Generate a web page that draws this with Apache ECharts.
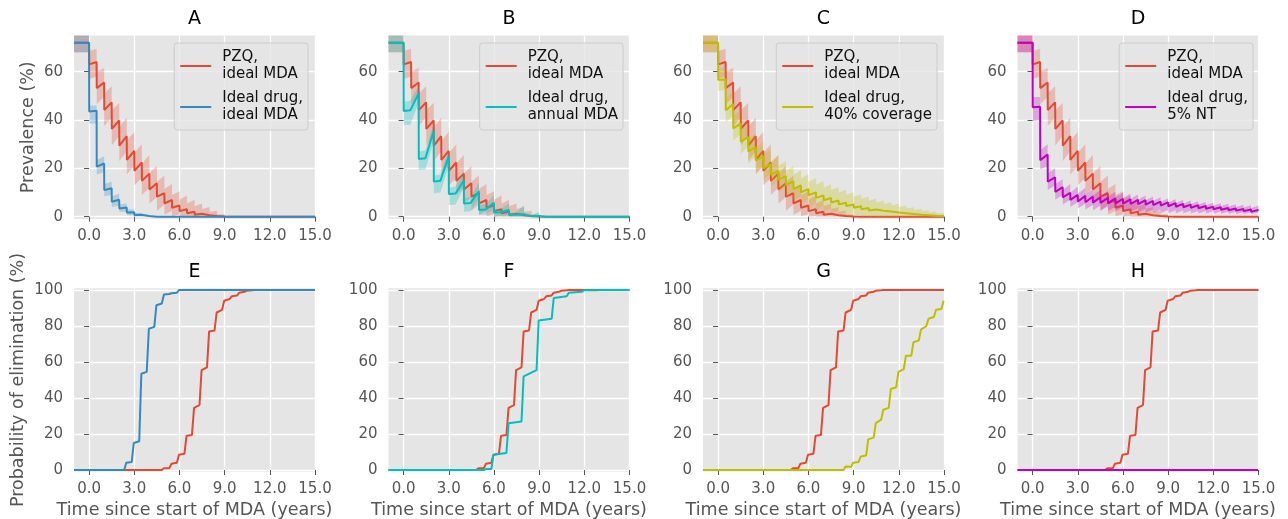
<!DOCTYPE html>
<html><head><meta charset="utf-8">
<script src="https://cdn.jsdelivr.net/npm/echarts@6/dist/echarts.min.js"></script>
<style>html,body{margin:0;padding:0;background:#fff}#c{width:1288px;height:519px}</style>
</head><body><div id="c"></div>
<script>
// ---------------- data ----------------
const panelTitles = ['A', 'B', 'C', 'D', 'E', 'F', 'G', 'H'];
const xTicks = [0, 3, 6, 9, 12, 15];
const prevTicks = [0, 20, 40, 60];
const elimTicks = [0, 20, 40, 60, 80, 100];
const semiT = [0, 0.5, 1, 1.5, 2, 2.5, 3, 3.5, 4, 4.5, 5, 5.5, 6, 6.5, 7, 7.5, 8, 8.5, 9, 9.5, 10, 10.5, 11, 11.5, 12, 12.5, 13, 13.5, 14, 14.5, 15];
const annualT = [0, 1, 2, 3, 4, 5, 6, 7, 8, 9, 10, 11, 12, 13, 14, 15];

// Prevalence: PZQ, ideal MDA (semi-annual rounds): value just before / just after each round
const pzqPre = [72, 64, 55.5, 47.3, 39.8, 33.3, 27.2, 22.4, 17.8, 13.8, 9.7, 6.9, 4.6, 3.1, 2.0, 1.2, 0.6, 0.3, 0.1, 0];
const pzqPost = [63, 53.2, 44.1, 36.3, 29.4, 23.5, 19.0, 14.8, 11.2, 8.3, 5.5, 3.7, 2.3, 1.4, 0.8, 0.4, 0.2, 0.1, 0, 0];
const pzqHiPre = [75, 69.5, 61.5, 54, 47, 41, 35, 30, 25.5, 21, 17, 13.5, 10.5, 8.8, 7, 5.5, 4, 2.5, 1, 0];
const pzqHiPost = [68.5, 60, 51, 44, 37, 31.5, 26.5, 22, 18, 14.5, 11.5, 9, 7, 5.5, 4.3, 3.2, 2, 1, 0.3, 0];
const pzqLoPre = [68, 58, 49.5, 41, 33.5, 27, 21, 16, 12, 8, 5, 2.5, 1, 0.3, 0];
const pzqLoPost = [57, 46.5, 37.5, 29.5, 23, 17.5, 13, 9, 5.5, 2.5, 0.8, 0.2, 0];

// Ideal drug, ideal MDA
const idealPre = [72, 43.8, 22, 11.8, 7, 3.8, 1.8, 0.8, 0.3, 0];
const idealPost = [43.5, 20.7, 11, 6.2, 3.4, 1.7, 0.7, 0.3, 0, 0];
const idealHiPre = [75, 46, 25, 14.5, 9.5, 5.5, 3, 1.5, 0.6, 0];
const idealHiPost = [46, 23.5, 13.5, 8.5, 5, 3, 1.5, 0.6, 0.2, 0];
const idealLoPre = [68, 38.5, 18.5, 9, 4.5, 2, 0.6, 0.1, 0];
const idealLoPost = [38.5, 17.5, 8.5, 4, 2, 0.6, 0.1, 0];

// Ideal drug, annual MDA (annual rounds, plus value half a year after each round)
const annPre = [72, 51, 35.5, 25, 15, 10.5, 5.8, 2.8, 1, 0.3, 0];
const annPost = [43.7, 23.9, 14.5, 9.4, 5.5, 2.8, 1.7, 0.8, 0.2, 0, 0];
const annMid = [44, 24.2, 14.9, 9.6, 5.7, 3, 1.8, 0.8, 0.2, 0, 0];
const annHiPre = [75, 54, 38.5, 28, 19, 14, 9, 5.5, 4.8, 2, 0];
const annHiPost = [47.5, 27, 17, 12, 7.6, 4.8, 3, 1.5, 0.5, 0, 0];
const annHiMid = [48, 27.5, 17.5, 12.5, 8, 5, 3.2, 1.6, 0.5, 0, 0];
const annLoPre = [68, 47, 31, 21, 12, 7.5, 3, 0.5, 0];
const annLoPost = [38, 19.3, 9.7, 4.8, 2, 0.7, 0];
const annLoMid = [38, 19.5, 10, 5, 2.2, 0.8, 0.1, 0];

// Ideal drug, 40% coverage
const covPre = [72, 56.8, 46.6, 38.5, 33, 28.8, 25, 21.8, 19, 16.8, 14.6, 12.9, 11.4, 10, 8.8, 7.7, 6.7, 5.8, 5, 4.3, 3.6, 3, 2.5, 2.1, 1.7, 1.4, 1.1, 0.8, 0.6, 0.4, 0.25];
const covPost = [56.6, 44, 36.5, 31, 27, 23.3, 20, 17.3, 15.2, 13.1, 11.5, 10.1, 8.9, 7.8, 6.8, 5.9, 5.1, 4.4, 3.7, 3.1, 2.6, 2.2, 1.8, 1.5, 1.2, 0.9, 0.7, 0.5, 0.35, 0.2, 0.1];
const covHiPre = [75, 61.5, 52, 44.5, 39, 34.5, 31, 28, 25.3, 23, 21, 19.2, 17.6, 16, 14.7, 13.4, 12.2, 11.1, 10.1, 9.2, 8.3, 7.5, 6.7, 6, 5.3, 4.6, 3.9, 3.3, 2.7, 2.1, 1.5];
const covHiPost = [61, 49, 41.5, 36, 32, 28.5, 25.5, 23, 21, 19, 17.3, 15.8, 14.5, 13.2, 12, 11, 10, 9.1, 8.2, 7.4, 6.6, 5.9, 5.2, 4.6, 4, 3.4, 2.8, 2.3, 1.8, 1.3, 0.9];
const covLoPre = [68, 52.5, 42, 34, 29, 25, 21, 18, 15, 12.5, 10.5, 8.5, 7, 5.6, 4.5, 3.5, 2.6, 1.9, 1.3, 0.8, 0.5, 0.3, 0.1, 0];
const covLoPost = [52, 39, 31.5, 26, 22, 18.5, 15, 12.5, 10, 8, 6.5, 5, 3.8, 2.8, 2, 1.4, 0.9, 0.5, 0.3, 0.1, 0];

// Ideal drug, 5% NT
const ntPre = [72, 45.5, 25.7, 16.3, 12.2, 9.9, 9.0, 8.6, 8.3, 8.0, 7.8, 7.6, 7.4, 7.2, 7.0, 6.8, 6.5, 6.2, 5.9, 5.6, 5.3, 5.0, 4.7, 4.4, 4.1, 3.9, 3.6, 3.4, 3.2, 3.0, 2.8];
const ntPost = [45.3, 23.4, 14.5, 10.3, 8.0, 6.9, 6.3, 6.0, 5.8, 5.7, 5.6, 5.5, 5.4, 5.3, 5.2, 5.0, 4.8, 4.6, 4.3, 4.1, 3.9, 3.7, 3.5, 3.3, 3.1, 2.9, 2.7, 2.5, 2.3, 2.1, 2.0];
const ntHiPre = [75, 49.5, 30, 20, 15.5, 13.5, 12.5, 12, 11.5, 11, 10.6, 10.3, 10, 9.6, 9.2, 8.8, 8.4, 8.0, 7.6, 7.3, 7.0, 6.7, 6.4, 6.1, 5.8, 5.6, 5.3, 5.1, 4.9, 4.7, 4.5];
const ntHiPost = [49.5, 27.5, 18, 13.5, 11, 10, 9.5, 9.2, 8.9, 8.6, 8.3, 8.0, 7.7, 7.4, 7.1, 6.8, 6.5, 6.2, 5.9, 5.7, 5.4, 5.2, 5.0, 4.8, 4.6, 4.4, 4.2, 4.0, 3.8, 3.6, 3.5];
const ntLoPre = [68, 40, 21, 13, 9, 7, 6, 5.3, 4.8, 4.5, 4.2, 4.0, 3.8, 3.6, 3.4, 3.2, 3.0, 2.9, 2.8, 2.7, 2.6, 2.5, 2.4, 2.3, 2.2, 2.1, 2.0, 1.9, 1.8, 1.7, 1.6];
const ntLoPost = [39.5, 19.5, 11, 7, 5, 4, 3.4, 3, 2.7, 2.5, 2.3, 2.1, 2, 1.9, 1.8, 1.7, 1.6, 1.5, 1.45, 1.4, 1.4, 1.35, 1.3, 1.3, 1.25, 1.2, 1.2, 1.15, 1.1, 1.1, 1.05];

// Probability of elimination: step times and values before / after each step
const pzqElimT = [5, 5.5, 6, 6.5, 7, 7.5, 8, 8.5, 9, 9.5, 10, 10.5, 11];
const pzqElimPre = [0, 1, 4, 9, 19.5, 36, 57, 77.5, 89, 95, 97, 99, 99.8];
const pzqElimPost = [1, 3.5, 8.5, 19, 34.5, 55.5, 77, 87.5, 94, 96.5, 98.5, 99.6, 100];
const idealElimT = [2.5, 3, 3.5, 4, 4.5, 5, 5.5, 6];
const idealElimPre = [0, 4.5, 16, 54.5, 79.5, 92.5, 97.8, 98.5];
const idealElimPost = [4, 15, 53.5, 78.5, 91.5, 97.5, 98.2, 100];
const annElimT = [5.5, 6, 7, 8, 9, 10, 11, 12, 13];
const annElimPre = [0, 0.6, 9.5, 27, 55.5, 84, 96.5, 99, 99.9];
const annElimPost = [0.5, 8.5, 26, 52, 83, 95.5, 98.5, 99.8, 100];
const covElimT = [8.5, 9, 9.5, 10, 10.5, 11, 11.5, 12, 12.5, 13, 13.5, 14, 14.5, 15];
const covElimPre = [0, 1.8, 4.5, 8, 18, 28, 34.5, 46, 56, 63.5, 72, 80, 85, 89.5];
const covElimPost = [2, 4, 7.5, 17, 26, 33.5, 45, 54.5, 63.5, 71, 78, 84, 89, 94];
const ntElimT = [15];
const ntElimPre = [0];
const ntElimPost = [0];

const NAMES = {
  pzq: 'PZQ,\nideal MDA', ideal: 'Ideal drug,\nideal MDA', ann: 'Ideal drug,\nannual MDA',
  cov: 'Ideal drug,\n40% coverage', nt: 'Ideal drug,\n5% NT'
};
const COLORS = { pzq: '#E24A33', ideal: '#348ABD', ann: '#00BFBF', cov: '#BFBF00', nt: '#BF00BF' };
const BANDS = {
  pzq: 'rgba(226,74,51,0.28)', ideal: 'rgba(52,138,189,0.28)', ann: 'rgba(0,191,191,0.28)',
  cov: 'rgba(191,191,0,0.28)', nt: 'rgba(191,0,191,0.28)'
};

// ---------------- builders ----------------
function at(a, k) { return a[Math.min(k, a.length - 1)]; }
function sawtooth(times, pre, post, mid) {
  const n = times.length, pts = [[-1, at(pre, 0)]];
  for (let k = 0; k < n - 1; k++) {
    pts.push([times[k], at(pre, k)]);
    pts.push([times[k] + 0.01, at(post, k)]);
    if (mid) pts.push([times[k] + 0.45, at(mid, k)]);
  }
  pts.push([times[n - 1], at(pre, n - 1)]);
  return pts;
}
function bandPts(times, loPre, loPost, hiPre, hiPost, loMid, hiMid) {
  const lo = sawtooth(times, loPre, loPost, loMid), hi = sawtooth(times, hiPre, hiPost, hiMid);
  return lo.map((p, i) => [p[0], p[1], hi[i][1]]);
}
function stairs(times, pre, post) {
  const pts = [[-1, 0]];
  times.forEach((t, k) => { pts.push([t - 0.17, pre[k]]); pts.push([t - 0.03, post[k]]); });
  pts.push([15, post[post.length - 1]]);
  return pts;
}

const topData = {
  pzq: { line: sawtooth(semiT, pzqPre, pzqPost), band: bandPts(semiT, pzqLoPre, pzqLoPost, pzqHiPre, pzqHiPost) },
  ideal: { line: sawtooth(semiT, idealPre, idealPost), band: bandPts(semiT, idealLoPre, idealLoPost, idealHiPre, idealHiPost) },
  ann: { line: sawtooth(annualT, annPre, annPost, annMid), band: bandPts(annualT, annLoPre, annLoPost, annHiPre, annHiPost, annLoMid, annHiMid) },
  cov: { line: sawtooth(semiT, covPre, covPost), band: bandPts(semiT, covLoPre, covLoPost, covHiPre, covHiPost) },
  nt: { line: sawtooth(semiT, ntPre, ntPost), band: bandPts(semiT, ntLoPre, ntLoPost, ntHiPre, ntHiPost) }
};
const elimData = {
  pzq: stairs(pzqElimT, pzqElimPre, pzqElimPost),
  ideal: stairs(idealElimT, idealElimPre, idealElimPost),
  ann: stairs(annElimT, annElimPre, annElimPost),
  cov: stairs(covElimT, covElimPre, covElimPost),
  nt: stairs(ntElimT, ntElimPre, ntElimPost)
};

// ---------------- layout / styles ----------------
const FONT = 'DejaVu Sans';
const others = ['ideal', 'ann', 'cov', 'nt'];
const colLeft = [74, 388.5, 703, 1017.5];
const plotW = 241;
const rowTop = [35.4, 288.2];
const plotH = [183.7, 183.6];
const legendRight = [980, 665, 351, 35];

const grids = [], xAxes = [], yAxes = [], series = [], graphics = [], legends = [];
for (let i = 0; i < 8; i++) {
  const row = i < 4 ? 0 : 1, col = i % 4;
  grids.push({
    left: colLeft[col], top: rowTop[row], width: plotW, height: plotH[row],
    show: true, backgroundColor: '#E5E5E5', borderWidth: 0, containLabel: false, outerBoundsMode: 'none'
  });
  xAxes.push({
    type: 'value', gridIndex: i, min: -1, max: 15,
    axisLine: { show: false },
    axisTick: { show: true, length: 5, customValues: xTicks, lineStyle: { color: '#555', width: 1 } },
    axisLabel: { customValues: xTicks, formatter: v => v.toFixed(1), color: '#555', fontSize: 15, fontFamily: FONT, margin: 10 },
    splitLine: { show: true, lineStyle: { color: '#ffffff', width: 1.3 } },
    name: row === 1 ? 'Time since start of MDA (years)' : '',
    nameLocation: 'middle', nameGap: 30,
    nameTextStyle: { color: '#555', fontSize: 17.5, fontFamily: FONT }
  });
  const yt = row === 0 ? prevTicks : elimTicks;
  yAxes.push({
    type: 'value', gridIndex: i, min: -1, max: row === 0 ? 75 : 101,
    axisLine: { show: false },
    axisTick: { show: true, length: 5, customValues: yt, lineStyle: { color: '#555', width: 1 } },
    axisLabel: { customValues: yt, color: '#555', fontSize: 15, fontFamily: FONT, margin: 11 },
    splitLine: { show: true, lineStyle: { color: '#ffffff', width: 1.3 } },
    name: col === 0 ? (row === 0 ? 'Prevalence (%)' : 'Probability of elimination (%)') : '',
    nameLocation: 'middle', nameGap: row === 0 ? 37 : 47,
    nameTextStyle: { color: '#555', fontSize: 17.5, fontFamily: FONT }
  });
  graphics.push({
    type: 'text', x: colLeft[col] + plotW / 2, y: row === 0 ? 19 : 272, silent: true,
    style: {
      text: panelTitles[i], align: 'center', verticalAlign: 'middle',
      font: '19px "DejaVu Sans"', fill: '#000'
    }
  });
}

function bandSeries(g, pts, fill, z) {
  return {
    type: 'custom', xAxisIndex: g, yAxisIndex: g, z: z, silent: true,
    data: pts, encode: { x: 0, y: [1, 2] },
    renderItem: function (params, api) {
      if (params.dataIndex !== 0) return null;
      const up = pts.map(p => api.coord([p[0], p[2]]));
      const dn = pts.map(p => api.coord([p[0], p[1]])).reverse();
      return { type: 'polygon', shape: { points: up.concat(dn) }, style: { fill: fill } };
    }
  };
}
function lineSeries(g, pts, key, z, name) {
  return {
    type: 'line', name: name, xAxisIndex: g, yAxisIndex: g, data: pts, z: z,
    color: COLORS[key], showSymbol: false, symbol: 'none', silent: true,
    lineStyle: { color: COLORS[key], width: 2 }
  };
}

others.forEach((key, c) => {
  series.push(bandSeries(c, topData.pzq.band, BANDS.pzq, 1));
  series.push(lineSeries(c, topData.pzq.line, 'pzq', 2, NAMES.pzq));
  series.push(bandSeries(c, topData[key].band, BANDS[key], 3));
  series.push(lineSeries(c, topData[key].line, key, 4, NAMES[key]));
  series.push(lineSeries(4 + c, elimData.pzq, 'pzq', 2, 'elim-pzq-' + c));
  series.push(lineSeries(4 + c, elimData[key], key, 3, 'elim-' + key));
  legends.push({
    data: [NAMES.pzq, NAMES[key]], orient: 'vertical', right: legendRight[c], top: 43,
    icon: 'rect', itemWidth: 31, itemHeight: 2, itemGap: 7, selectedMode: false,
    backgroundColor: 'rgba(229,229,229,0.8)', borderColor: '#CCCCCC', borderWidth: 1, borderRadius: 3,
    padding: [6, 5, 6, 6],
    textStyle: { fontFamily: FONT, fontSize: 15, lineHeight: 17, color: '#111', padding: [0, 0, 0, 6] }
  });
});

const chart = echarts.init(document.getElementById('c'), null, { renderer: 'canvas' });
chart.setOption({
  animation: false, backgroundColor: '#ffffff',
  legend: legends, grid: grids, xAxis: xAxes, yAxis: yAxes, series: series, graphic: graphics
});
</script></body></html>
